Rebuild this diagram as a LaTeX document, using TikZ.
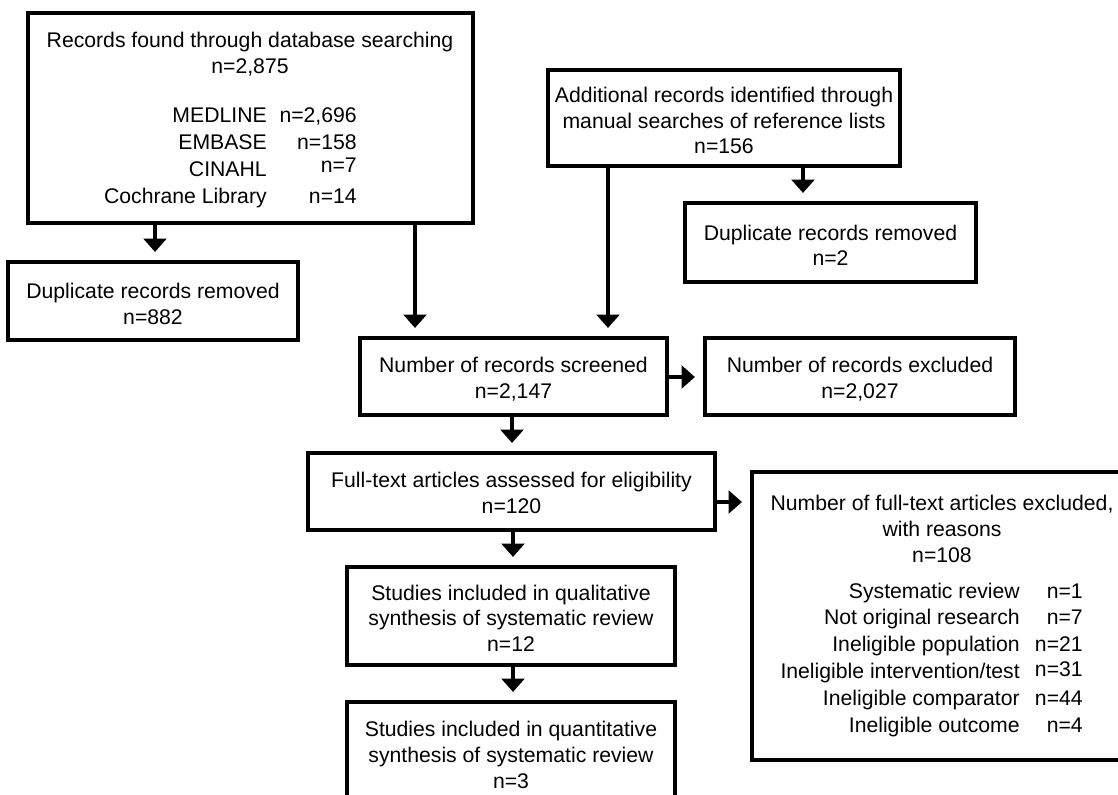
\documentclass[tikz,border=0pt]{standalone}
\usepackage{fontspec}
\setmainfont{Liberation Sans}
\usetikzlibrary{arrows.meta,fit}
\newcommand\fsmain{\fontsize{15.9}{19.2}\selectfont}
\newcommand\fslist{\fontsize{15.9}{20.2}\selectfont}
\begin{document}
\begin{tikzpicture}[x=0.75pt,y=-0.75pt,
  box/.style={draw, line width=2.5pt, inner sep=0pt},
  txt/.style={inner sep=0pt, align=center, font=\fsmain},
  lst/.style={inner sep=0pt, align=right, font=\fslist, anchor=east},
  ln/.style={line width=2.5pt},
  arr/.style={line width=2.5pt, -{Triangle[width=17pt,length=10pt]}, shorten >=6.3pt}]
\useasboundingbox (0,0) rectangle (1118,795);
% boxes
\node[box, fit={(28,13)(473,223)}] (b1) {};
\node[box, fit={(8,262)(298,340)}] (b2) {};
\node[box, fit={(548,70)(900,166)}] (b3) {};
\node[box, fit={(685,203)(976,282)}] (b4) {};
\node[box, fit={(360,338)(667,415)}] (b5) {};
\node[box, fit={(705,338)(1015,415)}] (b6) {};
\node[box, fit={(308,453)(715,530)}] (b7) {};
\node[box, fit={(752,472)(1140,760)}] (b9) {};
\node[box, fit={(347,567)(675,665)}] (b10) {};
\node[box, fit={(347,702)(675,808)}] (b11) {};
% box texts
\node[txt] (t2) at ([yshift=-2pt]b2.center) {Duplicate records removed\\n=882};
\node[txt] (t3) at ([yshift=-2pt]b3.center) {Additional records identified through\\manual searches of reference lists\\n=156};
\node[txt] (t4) at ([yshift=-2pt]b4.center) {Duplicate records removed\\n=2};
\node[txt] (t5) at ([yshift=-2pt]b5.center) {Number of records screened\\n=2,147};
\node[txt] (t6) at ([yshift=-2pt]b6.center) {Number of records excluded\\n=2,027};
\node[txt] (t7) at ([yshift=-1pt]b7.center) {Full-text articles assessed for eligibility\\n=120};
\node[txt] (t10) at ([yshift=-1.5pt]b10.center) {Studies included in qualitative\\synthesis of systematic review\\n=12};
\node[txt] (t11) at (511,755) {Studies included in quantitative\\synthesis of systematic review\\n=3};
% texts of box 1
\node[txt] (t1) at (250,54) {Records found through database searching\\n=2,875};
\node[lst] (l1a) at (267,157.5) {\strut MEDLINE\\EMBASE\\CINAHL\\Cochrane Library\strut};
\node[lst] (l1b) at (357,157.5) {\strut n=2,696\\n=158\\\raisebox{3pt}[0pt][0pt]{n=7}\\n=14\strut};
% texts of exclusion box
\node[txt, font=\fontsize{15.9}{19.5}\selectfont] (t9) at (942,529) {Number of full-text articles excluded,\\with reasons\\n=108};
\node[lst] (l9a) at (1020,660) {\strut Systematic review\\Not original research\\Ineligible population\\Ineligible intervention/test\\Ineligible comparator\\Ineligible outcome\strut};
\node[lst] (l9b) at (1083,660) {\strut n=1\\n=7\\n=21\\\raisebox{2pt}[0pt][0pt]{n=31}\\n=44\\n=4\strut};
% helper coordinates
\coordinate (xa) at (155,0);
\coordinate (xb) at (415,0);
\coordinate (xc) at (608,0);
\coordinate (xd) at (803,0);
\coordinate (xe) at (512,0);
\coordinate (xf) at (513,0);
\coordinate (ya) at (0,377);
\coordinate (yb) at (0,502);
% connectors
\draw[arr] (b1.south -| xa) -- (b2.north -| xa);
\draw[arr] (b1.south -| xb) -- (b5.north -| xb);
\draw[arr] (b3.south -| xc) -- (b5.north -| xc);
\draw[arr] (b3.south -| xd) -- (b4.north -| xd);
\draw[arr] (b5.east |- ya) -- (b6.west |- ya);
\draw[arr] (b5.south -| xe) -- (b7.north -| xe);
\draw[arr] (b7.east |- yb) -- (b9.west |- yb);
\draw[arr] (b7.south -| xf) -- (b10.north -| xf);
\draw[arr] (b10.south -| xf) -- (b11.north -| xf);
\end{tikzpicture}
\end{document}
